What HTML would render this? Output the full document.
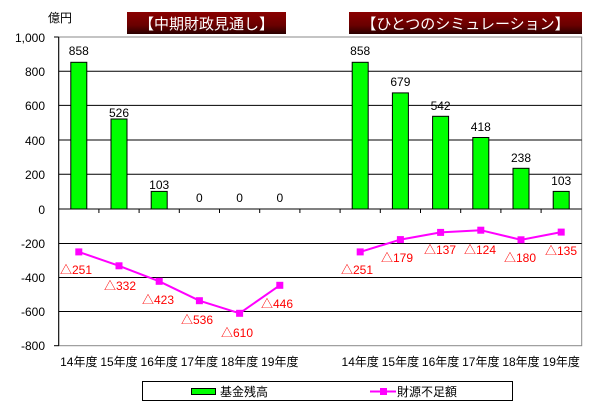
<!DOCTYPE html>
<html><head><meta charset="utf-8"><style>
body{margin:0;background:#fff;}
svg text{font-family:"Liberation Sans","Noto Sans CJK JP",sans-serif;}
</style></head><body>
<svg width="605" height="405" viewBox="0 0 605 405" xmlns="http://www.w3.org/2000/svg">
<defs>
<linearGradient id="g" x1="0" y1="0" x2="0" y2="1">
<stop offset="0" stop-color="#8a0000"/><stop offset="0.6" stop-color="#6a0000"/><stop offset="1" stop-color="#2a0000"/>
</linearGradient>
</defs>
<rect x="0" y="0" width="605" height="405" fill="#fff"/>
<text x="48" y="22" font-size="12">億円</text>
<rect x="127" y="12" width="159" height="22" fill="url(#g)"/>
<text x="206.5" y="29" font-size="15" fill="#fff" text-anchor="middle">【中期財政見通し】</text>
<rect x="349" y="12" width="233" height="22" fill="url(#g)"/>
<text x="465.5" y="29" font-size="15" fill="#fff" text-anchor="middle">【ひとつのシミュレーション】</text>
<rect x="58.7" y="37" width="523" height="308.7" fill="#fff" stroke="#888" stroke-width="1"/>
<g stroke="#000" stroke-width="1">
<line x1="58.7" y1="71.2" x2="581.7" y2="71.2"/>
<line x1="58.7" y1="105.4" x2="581.7" y2="105.4"/>
<line x1="58.7" y1="140" x2="581.7" y2="140"/>
<line x1="58.7" y1="174.3" x2="581.7" y2="174.3"/>
<line x1="58.7" y1="209" x2="581.7" y2="209"/>
<line x1="58.7" y1="243.5" x2="581.7" y2="243.5"/>
<line x1="58.7" y1="277.5" x2="581.7" y2="277.5"/>
<line x1="58.7" y1="311.5" x2="581.7" y2="311.5"/>
<line x1="58.7" y1="37" x2="58.7" y2="345.7"/>
<line x1="54" y1="37" x2="58.7" y2="37"/>
<line x1="54" y1="345.7" x2="58.7" y2="345.7"/>
</g>
<g stroke="#000">
<line x1="98.9" y1="209" x2="98.9" y2="213"/><line x1="139.1" y1="209" x2="139.1" y2="213"/>
<line x1="179.3" y1="209" x2="179.3" y2="213"/><line x1="219.5" y1="209" x2="219.5" y2="213"/>
<line x1="259.7" y1="209" x2="259.7" y2="213"/><line x1="299.9" y1="209" x2="299.9" y2="213"/>
<line x1="340.1" y1="209" x2="340.1" y2="213"/><line x1="380.3" y1="209" x2="380.3" y2="213"/>
<line x1="420.5" y1="209" x2="420.5" y2="213"/><line x1="460.7" y1="209" x2="460.7" y2="213"/>
<line x1="500.9" y1="209" x2="500.9" y2="213"/><line x1="541.1" y1="209" x2="541.1" y2="213"/>
</g>
<g font-size="12" text-anchor="end">
<text x="45" y="42">1,000</text><text x="45" y="76">800</text><text x="45" y="110">600</text>
<text x="45" y="145">400</text><text x="45" y="179">200</text><text x="45" y="214">0</text>
<text x="45" y="248">-200</text><text x="45" y="282">-400</text><text x="45" y="316">-600</text>
<text x="45" y="350">-800</text>
</g>
<g fill="#00ff00" stroke="#000" stroke-width="1">
<rect x="70.8" y="62.3" width="16" height="146.7"/>
<rect x="111" y="119" width="16" height="90"/>
<rect x="151.2" y="191.4" width="16" height="17.6"/>
<rect x="352.2" y="62.3" width="16" height="146.7"/>
<rect x="392.4" y="92.9" width="16" height="116.1"/>
<rect x="432.6" y="116.3" width="16" height="92.7"/>
<rect x="472.8" y="137.5" width="16" height="71.5"/>
<rect x="513" y="168.3" width="16" height="40.7"/>
<rect x="553.2" y="191.4" width="16" height="17.6"/>
</g>
<g font-size="12" text-anchor="middle">
<text x="78.8" y="55">858</text><text x="119" y="117">526</text><text x="159.2" y="189">103</text>
<text x="199.4" y="202">0</text><text x="239.6" y="202">0</text><text x="279.8" y="202">0</text>
<text x="360.2" y="55">858</text><text x="400.4" y="86">679</text><text x="440.6" y="110">542</text>
<text x="480.8" y="131">418</text><text x="521" y="162">238</text><text x="561.2" y="185">103</text>
</g>
<g stroke="#ff00ff" stroke-width="2" fill="none">
<polyline points="78.8,251.9 119,265.8 159.2,281.3 199.4,300.7 239.6,313.3 279.8,285.3"/>
<polyline points="360.2,251.9 400.4,239.6 440.6,232.4 480.8,230.2 521,239.8 561.2,232.1"/>
</g>
<g fill="#ff00ff">
<rect x="75.3" y="248.4" width="7" height="7"/><rect x="115.5" y="262.3" width="7" height="7"/>
<rect x="155.7" y="277.8" width="7" height="7"/><rect x="195.9" y="297.2" width="7" height="7"/>
<rect x="236.1" y="309.8" width="7" height="7"/><rect x="276.3" y="281.8" width="7" height="7"/>
<rect x="356.7" y="248.4" width="7" height="7"/><rect x="396.9" y="236.1" width="7" height="7"/>
<rect x="437.1" y="228.9" width="7" height="7"/><rect x="477.3" y="226.7" width="7" height="7"/>
<rect x="517.5" y="236.3" width="7" height="7"/><rect x="557.7" y="228.6" width="7" height="7"/>
</g>
<g font-size="12" fill="#ff0000" text-anchor="middle">
<text x="76" y="274">△251</text><text x="120" y="290">△332</text><text x="158" y="304">△423</text>
<text x="197" y="324">△536</text><text x="237" y="337">△610</text><text x="277" y="308">△446</text>
<text x="357" y="274">△251</text><text x="397" y="262">△179</text><text x="440" y="254">△137</text>
<text x="480" y="254">△124</text><text x="520" y="262">△180</text><text x="561" y="255">△135</text>
</g>
<g font-size="12" text-anchor="middle">
<text x="78.8" y="366">14年度</text><text x="119" y="366">15年度</text><text x="159.2" y="366">16年度</text>
<text x="199.4" y="366">17年度</text><text x="239.6" y="366">18年度</text><text x="279.8" y="366">19年度</text>
<text x="360.2" y="366">14年度</text><text x="400.4" y="366">15年度</text><text x="440.6" y="366">16年度</text>
<text x="480.8" y="366">17年度</text><text x="521" y="366">18年度</text><text x="561.2" y="366">19年度</text>
</g>
<rect x="142.5" y="381.5" width="370" height="19" fill="#fff" stroke="#000"/>
<rect x="191.5" y="388.5" width="24" height="6" fill="#00ff00" stroke="#000"/>
<text x="220" y="396" font-size="12">基金残高</text>
<line x1="370" y1="391.5" x2="396" y2="391.5" stroke="#ff00ff" stroke-width="2"/>
<rect x="380" y="388" width="7" height="7" fill="#ff00ff"/>
<text x="397" y="396" font-size="12">財源不足額</text>
</svg>
</body></html>
